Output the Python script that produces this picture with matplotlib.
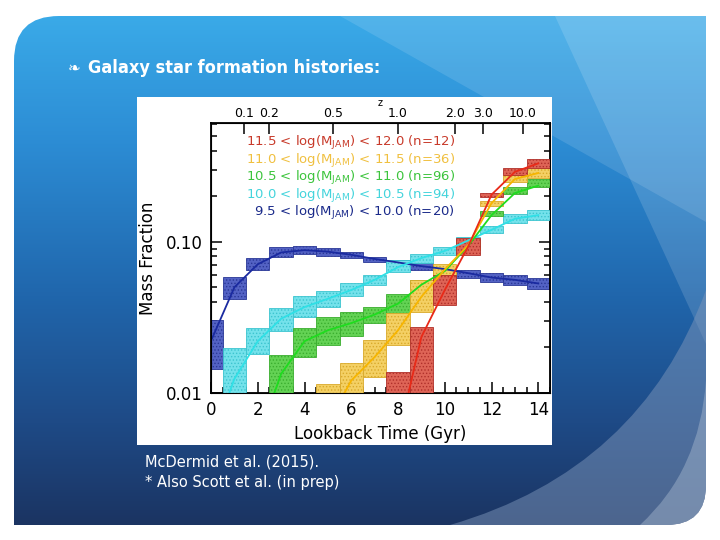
import numpy as np
import matplotlib
matplotlib.use('Agg')
import matplotlib.pyplot as plt
from matplotlib.path import Path
from matplotlib.patches import PathPatch, Rectangle, Polygon
from matplotlib.ticker import MultipleLocator, NullFormatter

nan = np.nan

# lookback-time bins (Gyr) and the points the smooth lines go through
bin_edges = [0.0, 0.5, 1.5, 2.5, 3.5, 4.5, 5.5, 6.5, 7.5, 8.5, 9.5, 10.5, 11.5, 12.5, 13.5, 14.5]
line_time = [0.05, 1, 2, 3, 4, 5, 6, 7, 8, 9, 10, 11, 12, 13, 14]

# mass fraction boxes (lower / upper) and line, one set per mass bin
blue_lo = [0.0145, 0.0418, 0.0650, 0.0796, 0.0825, 0.0807, 0.0776, 0.0738, 0.0701, 0.0650, 0.0630, 0.0573, 0.0543, 0.0517, 0.0487]
blue_hi = [0.0306, 0.0586, 0.0776, 0.0927, 0.0941, 0.0904, 0.0851, 0.0796, 0.0756, 0.0719, 0.0690, 0.0650, 0.0626, 0.0601, 0.0578]
blue_line = [0.023, 0.050, 0.071, 0.085, 0.088, 0.086, 0.082, 0.077, 0.073, 0.069, 0.066, 0.062, 0.058, 0.056, 0.053]

cyan_lo = [nan, 0.008, 0.0182, 0.0258, 0.0319, 0.0370, 0.0439, 0.0517, 0.0633, 0.0726, 0.0820, 0.095, 0.114, 0.134, 0.139]
cyan_hi = [nan, 0.0197, 0.0269, 0.0364, 0.0438, 0.0470, 0.0530, 0.0605, 0.0760, 0.0830, 0.0920, 0.108, 0.128, 0.152, 0.162]
cyan_line = [0.0049, 0.0124, 0.022, 0.031, 0.037, 0.042, 0.048, 0.056, 0.068, 0.078, 0.087, 0.102, 0.120, 0.142, 0.150]

green_lo = [nan, nan, nan, 0.008, 0.0172, 0.0208, 0.0238, 0.0290, 0.0336, 0.0490, 0.060, 0.088, 0.148, 0.207, 0.229]
green_hi = [nan, nan, nan, 0.0178, 0.0267, 0.0316, 0.0345, 0.0370, 0.0450, 0.0560, 0.068, 0.100, 0.160, 0.231, 0.259]
green_line = [nan, nan, 0.0049, 0.0134, 0.022, 0.026, 0.029, 0.033, 0.039, 0.052, 0.064, 0.094, 0.150, 0.210, 0.235]

yellow_lo = [nan, nan, nan, nan, nan, 0.008, 0.008, 0.0128, 0.0207, 0.0343, 0.0602, 0.088, 0.173, 0.250, 0.265]
yellow_hi = [nan, nan, nan, nan, nan, 0.0115, 0.0159, 0.0225, 0.0336, 0.0557, 0.0708, 0.102, 0.186, 0.277, 0.306]
yellow_line = [nan, nan, nan, nan, nan, 0.0063, 0.0121, 0.0173, 0.026, 0.0433, 0.0656, 0.095, 0.180, 0.260, 0.285]

red_lo = [nan, nan, nan, nan, nan, nan, nan, nan, 0.008, 0.008, 0.0381, 0.0816, 0.197, 0.277, 0.306]
red_hi = [nan, nan, nan, nan, nan, nan, nan, nan, 0.0138, 0.0274, 0.0602, 0.1052, 0.211, 0.306, 0.351]
red_line = [nan, nan, nan, nan, nan, nan, nan, nan, 0.005, 0.0235, 0.048, 0.093, 0.205, 0.290, 0.330]

# legend text (top to bottom)
mass_lo = ['11.5', '11.0', '10.5', '10.0', '9.5']
mass_hi = ['12.0', '11.5', '11.0', '10.5', '10.0']
n_gal = [12, 36, 96, 94, 20]

# redshift axis on top
z_labels = ['0.1', '0.2', '0.5', '1.0', '2.0', '3.0', '10.0']
z_time = [1.40, 2.49, 5.23, 7.99, 10.44, 11.62, 13.33]

fig = plt.figure(figsize=(7.2, 5.4), dpi=100)

# ---- slide background (pixel coords) ----
bg = fig.add_axes([0, 0, 1, 1])
bg.set_xlim(0, 720)
bg.set_ylim(540, 0)
bg.axis('off')

x0, x1, y0, y1 = 14, 706, 16, 525
r, rb = 45, 40
verts = [(x0, y1), (x0, y0 + r), (x0, y0), (x0 + r, y0), (x1, y0), (x1, y1 - rb),
         (x1, y1), (x1 - rb, y1), (x0, y1)]
codes = [Path.MOVETO, Path.LINETO, Path.CURVE3, Path.CURVE3, Path.LINETO, Path.LINETO,
         Path.CURVE3, Path.CURVE3, Path.CLOSEPOLY]
slide = PathPatch(Path(verts, codes), facecolor='none', edgecolor='none')
bg.add_patch(slide)

stops_y = np.array([0, 0.25, 0.55, 0.8, 1.0])
stops_c = np.array([[58, 170, 232], [44, 140, 212], [32, 102, 172], [30, 74, 134], [27, 52, 98]]) / 255.
t = np.linspace(0, 1, 300)
grad = np.stack([np.interp(t, stops_y, stops_c[:, k]) for k in range(3)], axis=1)
grad = np.repeat(grad[:, None, :], 2, axis=1)
im = bg.imshow(grad, extent=(x0, x1, y1, y0), aspect='auto', zorder=1)
im.set_clip_path(slide)

for pts, a in [([(340, y0), (x1, y0), (x1, 222)], 0.12),
               ([(555, y0), (x1, y0), (x1, 344)], 0.14)]:
    p = Polygon(pts, closed=True, facecolor='white', edgecolor='none', alpha=a, zorder=2)
    bg.add_patch(p)
    p.set_clip_path(slide)

# bottom-right swoosh
sw = Path([(450, y1), (640, 470), (x1, 290), (x1, y1), (450, y1)],
          [Path.MOVETO, Path.CURVE3, Path.CURVE3, Path.LINETO, Path.CLOSEPOLY])
p = PathPatch(sw, facecolor='#7d96ba', edgecolor='none', alpha=0.5, zorder=2)
bg.add_patch(p)
p.set_clip_path(slide)
sw2 = Path([(640, y1), (700, 470), (x1, 380), (x1, y1), (640, y1)],
           [Path.MOVETO, Path.CURVE3, Path.CURVE3, Path.LINETO, Path.CLOSEPOLY])
p = PathPatch(sw2, facecolor='#a9bad0', edgecolor='none', alpha=0.45, zorder=2)
bg.add_patch(p)
p.set_clip_path(slide)

# white panel of the pasted figure
bg.add_patch(Rectangle((137, 97), 415, 348, facecolor='white', edgecolor='none', zorder=3))

bg.text(68, 68, '\u2767', color='white', fontsize=11, va='center', ha='left', zorder=4)
bg.text(88, 68, 'Galaxy star formation histories:', color='white', fontsize=13, fontweight='bold',
        family='DejaVu Sans', fontstretch='condensed', va='center', ha='left', zorder=4)
bg.text(145, 462, 'McDermid et al. (2015).', color='white', fontsize=10.5, va='center', ha='left', zorder=4)
bg.text(145, 483, '* Also Scott et al. (in prep)', color='white', fontsize=10.5, va='center', ha='left', zorder=4)

# ---- the chart ----
ax = fig.add_axes([211 / 720, 1 - 393 / 540, 339 / 720, 270 / 540])
ax.set_zorder(5)

series = [
    (blue_lo, blue_hi, blue_line, '#5362c4', '#2a3896', '#1a2aa0', '#1a2a8a'),
    (cyan_lo, cyan_hi, cyan_line, '#74e2eb', '#3cc4cf', '#2fe0e6', '#44d4dc'),
    (green_lo, green_hi, green_line, '#63d254', '#3aad2e', '#1fdc1f', '#3cc43c'),
    (yellow_lo, yellow_hi, yellow_line, '#f4d064', '#d9a92a', '#f7b500', '#f0c040'),
    (red_lo, red_hi, red_line, '#de6456', '#b0302a', '#e82a18', '#c83a2a'),
]

edges = np.array(bin_edges)
plt.rcParams['hatch.linewidth'] = 0.6
for i, (lo, hi, ln, fc, ec, lc, tc) in enumerate(series):
    lo = np.array(lo)
    hi = np.array(hi)
    ok = ~np.isnan(lo)
    ax.bar(edges[:-1][ok], hi[ok] - lo[ok], width=np.diff(edges)[ok], bottom=lo[ok], align='edge',
           facecolor=fc, edgecolor=ec, hatch='.....', linewidth=0.6, zorder=2 + i)
for i, (lo, hi, ln, fc, ec, lc, tc) in enumerate(series):
    ax.plot(line_time, ln, color=lc, lw=1.3, zorder=10 + i)

ax.set_yscale('log')
ax.set_xlim(0, 14.5)
ax.set_ylim(0.01, 0.61)
ax.set_yticks([0.01, 0.1])
ax.set_yticklabels(['0.01', '0.10'])
ax.yaxis.set_minor_formatter(NullFormatter())
ax.set_xticks(range(0, 15, 2))
ax.xaxis.set_minor_locator(MultipleLocator(0.5))
ax.tick_params(which='both', direction='in', right=True, top=False, labelsize=12, width=1.1)
ax.tick_params(which='major', length=8, pad=6)
ax.tick_params(which='minor', length=4)
for s in ax.spines.values():
    s.set_linewidth(1.3)
ax.set_xlabel('Lookback Time (Gyr)', fontsize=12, labelpad=4)
ax.set_ylabel('Mass Fraction', fontsize=12, labelpad=6)

axt = ax.twiny()
axt.set_xlim(0, 14.5)
axt.set_xticks(z_time)
axt.set_xticklabels(z_labels)
axt.tick_params(direction='in', length=8, width=1.1, labelsize=9, pad=2)
axt.set_xlabel('z', fontsize=7, labelpad=1)

for i, (ml, mh, n) in enumerate(zip(mass_lo, mass_hi, n_gal)):
    tc = series[4 - i][6]
    fig.text(455 / 720, 1 - (143.3 + 17.5 * i) / 540,
             ml + r' < log($\mathrm{M}_{\mathrm{JAM}}$) < ' + mh + ' (n=%d)' % n,
             color=tc, fontsize=9.5, ha='right', va='center', zorder=20)

fig.savefig('out.png', dpi=100)
